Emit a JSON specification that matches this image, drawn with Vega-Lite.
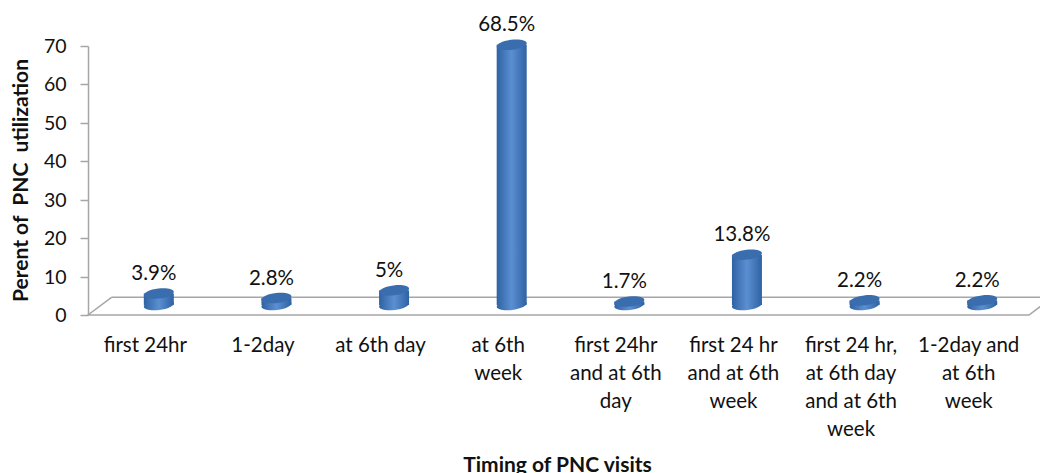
{
"$schema":"https://vega.github.io/schema/vega-lite/v6.json",
"width":941,"height":269,
"autosize":"none",
"padding":{"left":88,"top":46,"right":11,"bottom":158},
"background":"white",
"config":{"view":{"stroke":null},"font":"Lato","text":{"font":"Lato"},
 "axisY":{"grid":false,"domainColor":"#a6a6a6","domainWidth":1.5,"tickColor":"#a6a6a6","tickWidth":1.5,"tickSize":8,"labelFontSize":19.5,"labelColor":"#111","labelPadding":14,"labelOffset":0.5,"labelOverlap":false,"titleFontSize":21,"titleFontWeight":"bold","titleColor":"#111","titleBaseline":"middle"}},
"datasets":{
"bars":[
{"visit":"first 24hr","read":3.0,"label":"3.9%"},
{"visit":"1-2day","read":1.8,"label":"2.8%"},
{"visit":"at 6th day","read":3.8,"label":"5%"},
{"visit":"at 6th\nweek","read":67.7,"label":"68.5%"},
{"visit":"first 24hr\nand at 6th\nday","read":0.9,"label":"1.7%"},
{"visit":"first 24 hr\nand at 6th\nweek","read":13.1,"label":"13.8%"},
{"visit":"first 24 hr,\nat 6th day\nand at 6th\nweek","read":1.2,"label":"2.2%"},
{"visit":"1-2day and\nat 6th\nweek","read":1.2,"label":"2.2%"}
],
"floor":[
{"px":0.2,"py":4.6,"o":1},{"px":0,"py":0,"o":2},{"px":8,"py":0,"o":3},{"px":8.2,"py":4.6,"o":4},{"px":0.2,"py":4.6,"o":5}
]},
"resolve":{"scale":{"x":"independent"}},
"encoding":{"y":{"field":"read","type":"quantitative","scale":{"domain":[0,70],"nice":false},
  "axis":{"values":[0,10,20,30,40,50,60,70],"title":"Perent of\u00a0\u00a0PNC\u00a0\u00a0utilization","titleX":-67,"titleY":134}}},
"layer":[
{"data":{"name":"floor"},
 "mark":{"type":"line","color":"#a6a6a6","strokeWidth":1.5,"clip":false},
 "encoding":{"x":{"field":"px","type":"quantitative","scale":{"domain":[0,8],"nice":false,"zero":false},"axis":null},
 "y":{"field":"py","type":"quantitative"},
 "order":{"field":"o","type":"quantitative"}}},
{"data":{"name":"bars"},
 "mark":{"type":"bar","width":30,"xOffset":12,"yOffset":-10,"y2Offset":-10,
  "color":{"gradient":"linear","x1":0,"x2":1,"y1":0,"y2":0,"stops":[{"offset":0,"color":"#2f62a3"},{"offset":0.5,"color":"#5a8fd1"},{"offset":1,"color":"#2f62a3"}]}},
 "encoding":{"x":{"field":"visit","type":"nominal","sort":null,"scale":{"paddingInner":0,"paddingOuter":0},
  "axis":{"labelExpr":"split(datum.label,'\\n')","labelAngle":0,"labelAlign":"center","labelBaseline":"top","labelFontSize":20.5,"labelLineHeight":28,"labelColor":"#111","labelPadding":20,"labelOffset":-1.5,"labelLimit":0,"domain":false,"ticks":false,"title":"Timing of PNC visits","titleFontSize":21,"titleFontWeight":"bold","titleColor":"#111","titleX":469,"titleY":150,"titleAnchor":"middle","titleBaseline":"middle"}},
 "y2":{"datum":0}}},
{"data":{"name":"bars"},
 "mark":{"type":"point","filled":true,"size":900,"opacity":1,"xOffset":12,"yOffset":-10,"shape":"M-1,0.12 A1,0.33 -7 1 0 1,-0.12 A1,0.33 -7 1 0 -1,0.12 Z",
  "color":{"gradient":"linear","x1":0,"x2":1,"y1":0,"y2":0,"stops":[{"offset":0,"color":"#2f62a3"},{"offset":0.5,"color":"#5a8fd1"},{"offset":1,"color":"#2f62a3"}]}},
 "encoding":{"x":{"field":"visit","type":"nominal","sort":null,"scale":{"paddingInner":0,"paddingOuter":0},"axis":null},"y":{"datum":0}}},
{"data":{"name":"bars"},
 "mark":{"type":"point","filled":true,"size":900,"opacity":1,"color":"#3a6dae","xOffset":12,"yOffset":-10,"shape":"M-1,0.12 A1,0.33 -7 1 0 1,-0.12 A1,0.33 -7 1 0 -1,0.12 Z"},
 "encoding":{"x":{"field":"visit","type":"nominal","sort":null,"scale":{"paddingInner":0,"paddingOuter":0},"axis":null}}},
{"data":{"name":"bars"},
 "mark":{"type":"text","fontSize":20.5,"color":"#111","xOffset":7,"yOffset":-29.5,"clip":false},
 "encoding":{"x":{"field":"visit","type":"nominal","sort":null,"scale":{"paddingInner":0,"paddingOuter":0},"axis":null},"text":{"field":"label"}}}
]
}
